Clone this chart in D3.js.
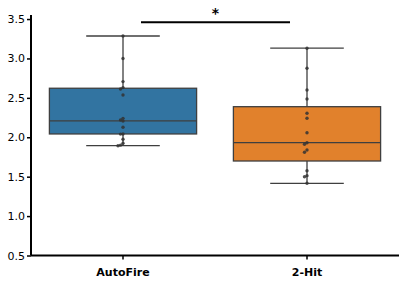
<!DOCTYPE html>
<html>
<head>
<meta charset="utf-8">
<script src="https://cdn.jsdelivr.net/npm/d3@7"></script>
<style>
  body { margin: 0; background: #fff; }
  svg { display: block; font-family: "DejaVu Sans", sans-serif; }
</style>
</head>
<body>
<svg id="chart" width="405" height="284"></svg>
<script>
var categories = ["AutoFire", "2-Hit"];
var colors = ["#3274A1", "#E1812C"];

// box stats: [whiskerLow, q1, median, q3, whiskerHigh]
var autofireBox = [1.893, 2.042, 2.207, 2.622, 3.285];
var twoHitBox = [1.416, 1.699, 1.931, 2.388, 3.13];

var autofirePoints = [3.285, 3.0, 2.706, 2.63, 2.613, 2.537, 2.24, 2.22, 2.207, 2.127, 2.042, 2.04, 1.975, 1.924, 1.9, 1.893];
var twoHitPoints = [3.13, 2.876, 2.60, 2.486, 2.305, 2.241, 2.058, 1.931, 1.911, 1.839, 1.81, 1.576, 1.513, 1.5, 1.416];

var yTicks = [0.5, 1.0, 1.5, 2.0, 2.5, 3.0, 3.5];

var boxes = [autofireBox, twoHitBox];
var points = [autofirePoints, twoHitPoints];

var svg = d3.select("#chart");

var x = d3.scaleBand()
    .domain(categories)
    .range([31, 399])
    .padding(0);

var y = d3.scaleLinear()
    .domain([0.5, 3.55])
    .range([255.5, 15.1]);

var bw = x.bandwidth();

// boxes
categories.forEach(function (cat, i) {
    var b = boxes[i];
    var cx = x(cat) + bw / 2;
    var g = svg.append("g").attr("class", "box");

    g.append("line")
        .attr("x1", cx).attr("x2", cx)
        .attr("y1", y(b[0])).attr("y2", y(b[1]))
        .attr("stroke", "#3f3f3f").attr("stroke-width", 1.3);
    g.append("line")
        .attr("x1", cx).attr("x2", cx)
        .attr("y1", y(b[3])).attr("y2", y(b[4]))
        .attr("stroke", "#3f3f3f").attr("stroke-width", 1.3);
    // caps
    [b[0], b[4]].forEach(function (v) {
        g.append("line")
            .attr("x1", cx - bw * 0.2).attr("x2", cx + bw * 0.2)
            .attr("y1", y(v)).attr("y2", y(v))
            .attr("stroke", "#3f3f3f").attr("stroke-width", 1.3);
    });
    g.append("rect")
        .attr("x", cx - bw * 0.4)
        .attr("width", bw * 0.8)
        .attr("y", y(b[3]))
        .attr("height", y(b[1]) - y(b[3]))
        .attr("fill", colors[i])
        .attr("stroke", "#3f3f3f").attr("stroke-width", 1.3);
    g.append("line")
        .attr("x1", cx - bw * 0.4).attr("x2", cx + bw * 0.4)
        .attr("y1", y(b[2])).attr("y2", y(b[2]))
        .attr("stroke", "#3f3f3f").attr("stroke-width", 1.3);

    // swarm-ish points: nudge left when overlapping previous
    var placed = [];
    points[i].forEach(function (v) {
        var py = y(v);
        var off = 0;
        placed.forEach(function (p) {
            if (Math.abs(p.y - py) < 2.5 && p.off === off) off -= 2.5;
        });
        placed.push({ y: py, off: off });
        g.append("circle")
            .attr("cx", cx + off)
            .attr("cy", py)
            .attr("r", 1.7)
            .attr("fill", "#333")
            .attr("fill-opacity", 0.85);
    });
});

// axes
var yAxis = svg.append("g")
    .attr("transform", "translate(31,0)")
    .call(d3.axisLeft(y).tickValues(yTicks).tickFormat(d3.format(".1f")).tickSize(4).tickPadding(2));
yAxis.select(".domain").attr("stroke-width", 2).attr("d", "M0," + y(0.5) + "V" + y(3.55));
yAxis.selectAll(".tick line").attr("stroke-width", 1.5);
yAxis.selectAll("text").attr("font-size", 11).attr("fill", "#000")
    .attr("font-family", "DejaVu Sans, sans-serif");

var xAxis = svg.append("g")
    .attr("transform", "translate(0," + y(0.5) + ")")
    .call(d3.axisBottom(x).tickSize(4).tickPadding(9));
xAxis.select(".domain").attr("stroke-width", 2).attr("d", "M31,0H399");
xAxis.selectAll(".tick line").attr("stroke-width", 1.5);
xAxis.selectAll("text").attr("font-size", 11).attr("font-weight", "bold").attr("fill", "#000")
    .attr("font-family", "DejaVu Sans, sans-serif");

// significance bar
var x1 = x(categories[0]) + bw / 2 + 18;
var x2 = x(categories[1]) + bw / 2 - 17;
svg.append("line")
    .attr("x1", x1).attr("x2", x2)
    .attr("y1", 22.3).attr("y2", 22.3)
    .attr("stroke", "#000").attr("stroke-width", 2);
svg.append("text")
    .attr("x", (x1 + x2) / 2)
    .attr("y", 18)
    .attr("text-anchor", "middle")
    .attr("font-size", 14)
    .attr("font-weight", "bold")
    .text("*");
</script>
</body>
</html>
